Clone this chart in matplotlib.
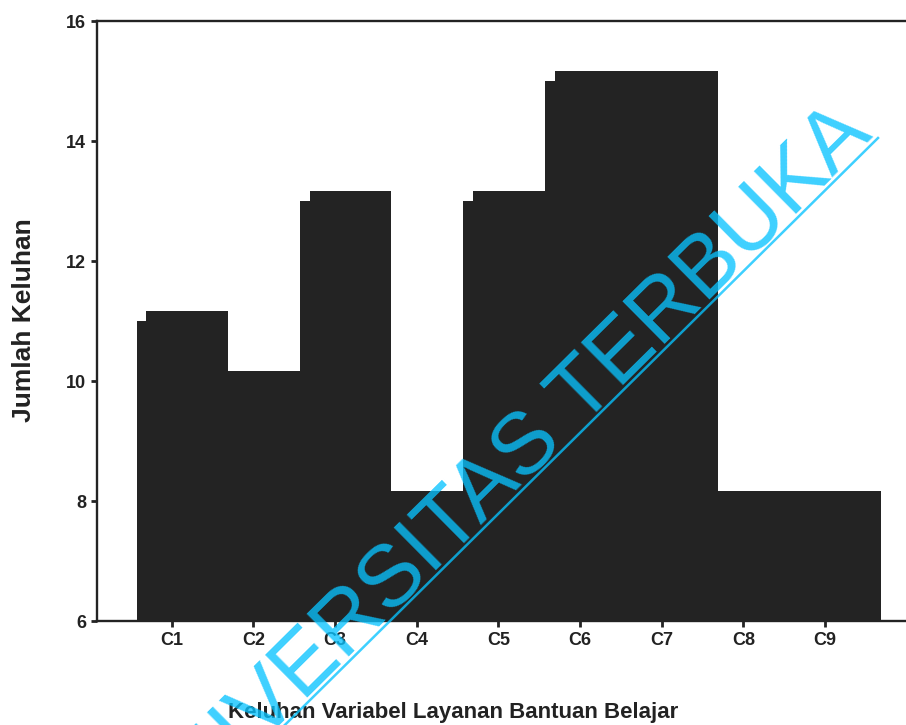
import numpy as np
import matplotlib
matplotlib.use("Agg")
import matplotlib.pyplot as plt
import matplotlib.patheffects as pe
from matplotlib.lines import Line2D

categories = ["C1", "C2", "C3", "C4", "C5", "C6", "C7", "C8", "C9"]
values = [11, 10, 13, 8, 13, 15, 15, 8, 8]
y_ticks = [6, 8, 10, 12, 14, 16]
x_title = "Keluhan Variabel Layanan Bantuan Belajar"
y_title = "Jumlah Keluhan"
watermark = "UNIVERSITAS TERBUKA"

plt.rcParams['font.family'] = ['Liberation Sans', 'DejaVu Sans']

W, H = 906, 725
fig = plt.figure(figsize=(W / 100, H / 100), dpi=100)
fig.patch.set_facecolor("white")

ax_left, ax_right = 97 / W, 924 / W
ax_bottom, ax_top = (H - 621) / H, (H - 21) / H
ax = fig.add_axes([ax_left, ax_bottom, ax_right - ax_left, ax_top - ax_bottom])

dark = "#232323"
pos = np.arange(1, len(categories) + 1)
bars = ax.bar(pos + 0.07, values, width=1.0, color=dark, edgecolor=dark, linewidth=0, zorder=2)
for b in bars:
    b.set_path_effects([pe.SimplePatchShadow(offset=(7, 7.5), shadow_rgbFace=dark, alpha=1.0), pe.Normal()])

ax.set_ylim(6, 16)
ax.set_xlim(0.085, 10.21)
ax.set_yticks(y_ticks)
ax.set_yticklabels([str(v) for v in y_ticks])
ax.set_xticks(pos)
ax.set_xticklabels(categories)
for lab in ax.get_xticklabels() + ax.get_yticklabels():
    lab.set_fontweight("bold")
    lab.set_fontsize(13)
    lab.set_color("#222222")
ax.tick_params(axis="both", direction="out", length=4, width=2.0, color=dark, pad=4)

for s in ["left", "top", "bottom"]:
    ax.spines[s].set_linewidth(1.7)
    ax.spines[s].set_color(dark)
ax.spines["right"].set_visible(False)

fig.text(453 / W, 1 - 718 / H, x_title, ha="center", va="baseline",
         fontsize=16, fontweight="bold", color="#222222")
fig.text(24 / W, 1 - 320 / H, y_title, ha="center", va="center", rotation=90,
         fontsize=19, fontweight="bold", color="#222222")

# watermark (pixel geometry, y measured downward from top)
ang = 44.7
ca, sa = np.cos(np.radians(ang)), np.sin(np.radians(ang))
u = np.array([ca, -sa])       # along baseline, toward upper right
n = np.array([-sa, -ca])      # perpendicular, toward upper left
p0 = np.array([878.0, 138.0]) # upper-right end of the underline
anchor = p0 - 1.5 * u + 3.5 * n
wm_color = (8 / 255, 195 / 255, 1.0)
fig.text(anchor[0] / W, 1 - anchor[1] / H, watermark, ha="right", va="baseline", rotation=ang,
         rotation_mode="anchor", fontsize=63, color=wm_color, alpha=0.78, zorder=10)
p1 = p0 - 1000 * u
fig.add_artist(Line2D([p0[0] / W, p1[0] / W], [1 - p0[1] / H, 1 - p1[1] / H], transform=fig.transFigure,
                      color=wm_color, alpha=0.78, linewidth=1.8, zorder=10))

fig.savefig("out.png", dpi=100)
